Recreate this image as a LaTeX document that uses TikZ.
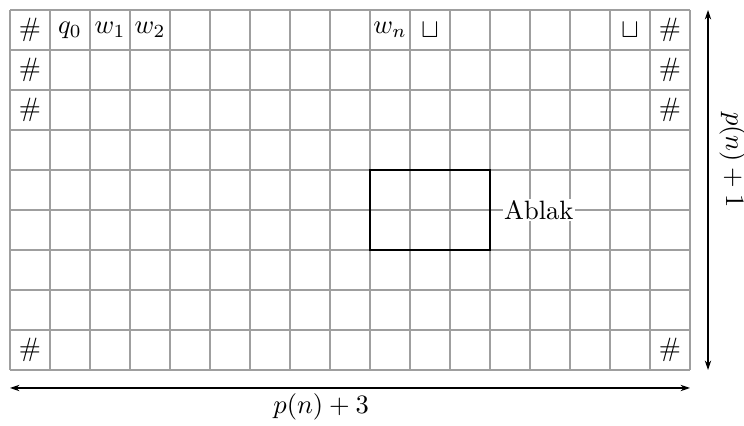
\documentclass[tikz,border=0pt]{standalone}
\usepackage{amsmath}
\usepackage{amssymb}
\usetikzlibrary{arrows.meta,positioning,calc}

\begin{document}
\begin{tikzpicture}[
    x=0.53cm, y=0.53cm,
    >={Stealth[length=3.6pt, width=2.4pt]},
    cell/.style={minimum size=0.53cm, inner sep=0pt},
    gridline/.style={gray!75, line width=0.4pt, step=0.53cm},
    window/.style={draw, line width=0.8pt},
    dimarrow/.style={<->, line width=0.4pt},
    every node/.style={font=\normalsize},
  ]
  \useasboundingbox (-0.25,-1.4) rectangle (18.35,9.25);

  % Tableau grid
  \draw[gridline] (0,0) grid (17,9);

  % Row 0: start configuration
  \node[cell] at (0.5,8.5) (hl0) {$\#$};
  \node[cell] at (1.5,8.5) (q0) {$q_0$};
  \node[cell] at (2.5,8.5) (w1) {$w_1$};
  \node[cell] at (3.5,8.5) (w2) {$w_2$};
  \node[cell] at (9.5,8.5) (wn) {$w_n$};
  \node[cell] at (10.5,8.5) (bl1) {$\sqcup$};
  \node[cell] at (15.5,8.5) (bl2) {$\sqcup$};
  \node[cell] at (16.5,8.5) (hr0) {$\#$};

  % Border symbols
  \node[cell] at (0.5,7.5) (hl1) {$\#$};
  \node[cell] at (16.5,7.5) (hr1) {$\#$};
  \node[cell] at (0.5,6.5) (hl2) {$\#$};
  \node[cell] at (16.5,6.5) (hr2) {$\#$};
  \node[cell] at (0.5,0.5) (hl8) {$\#$};
  \node[cell] at (16.5,0.5) (hr8) {$\#$};

  % Window
  \coordinate (wsw) at (9,3);
  \coordinate (wne) at (12,5);
  \draw[window] (wsw) rectangle (wne);
  \node[fill=white, inner sep=0.6pt, anchor=west] at (12.3,4) (ablak)
    {Ablak};

  % Dimensions
  \coordinate (dimw) at (0,-0.45);
  \coordinate (dime) at (17,-0.45);
  \coordinate (dimn) at (17.45,9);
  \coordinate (dims) at (17.45,0);
  \draw[dimarrow] (dimw) -- (dime);
  \draw[dimarrow] (dimn) -- (dims);
  \node at (7.78,-0.92) (width) {$p(n)+3$};
  \node[rotate=-90] at (18.07,5.25) (height) {$p(n)+1$};

\end{tikzpicture}
\end{document}
